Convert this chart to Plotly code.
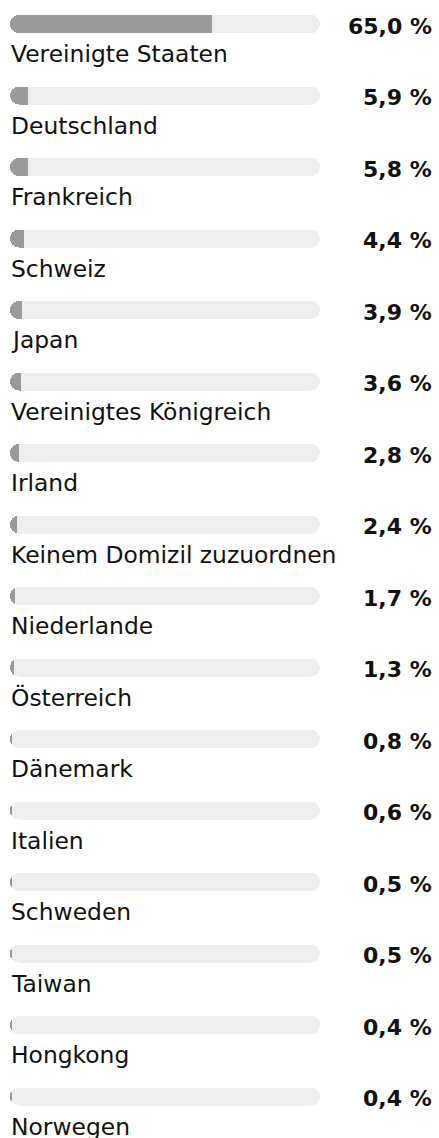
import plotly.graph_objects as go

countries = [
    "Vereinigte Staaten", "Deutschland", "Frankreich", "Schweiz", "Japan",
    "Vereinigtes Königreich", "Irland", "Keinem Domizil zuzuordnen",
    "Niederlande", "Österreich", "Dänemark", "Italien", "Schweden",
    "Taiwan", "Hongkong", "Norwegen",
]
shares = [65.0, 5.9, 5.8, 4.4, 3.9, 3.6, 2.8, 2.4, 1.7, 1.3, 0.8, 0.6, 0.5, 0.5, 0.4, 0.4]
share_labels = ["65,0 %", "5,9 %", "5,8 %", "4,4 %", "3,9 %", "3,6 %", "2,8 %", "2,4 %",
                "1,7 %", "1,3 %", "0,8 %", "0,6 %", "0,5 %", "0,5 %", "0,4 %", "0,4 %"]
full_scale = 100.0

W, H = 439, 1138
PITCH = 71.5          # px between rows
FIRST_CENTER = 24     # px, centre of the first bar
BAR_PX = 18
X0_PX, X1_PX = 10, 320

rows = list(range(len(countries)))
px_per_unit = (X1_PX - X0_PX) / full_scale
x_range = [-X0_PX / px_per_unit, (W - X0_PX) / px_per_unit]
# mirrored axis: the fill grows from the left end of the track, rounded there
x2_range = [full_scale + X0_PX / px_per_unit, full_scale - (W - X0_PX) / px_per_unit]
y_range = [(H - FIRST_CENTER) / PITCH, -FIRST_CENTER / PITCH]
bar_w = BAR_PX / PITCH

TRACK = "#eeeeee"
FILL = "#9a9a9a"
TEXT = "#111111"

fig = go.Figure()

# grey track, a pill over the full 0-100 % scale
fig.add_trace(go.Bar(
    y=rows, x=[full_scale] * len(rows), base=[0] * len(rows), orientation="h",
    width=bar_w, marker=dict(color=TRACK, line_width=0), hoverinfo="skip",
    xaxis="x", yaxis="y",
))

# value bars on the mirrored axis: an invisible spacer, then the share on top
fig.add_trace(go.Bar(
    y=rows, x=[full_scale - v for v in shares], orientation="h",
    width=bar_w, marker=dict(color="rgba(0,0,0,0)", line_width=0), hoverinfo="skip",
    xaxis="x2", yaxis="y",
))
fig.add_trace(go.Bar(
    y=rows, x=shares, orientation="h",
    width=bar_w, marker=dict(color=FILL, line_width=0),
    customdata=share_labels, text=countries,
    hovertemplate="%{text}: %{customdata}<extra></extra>", textposition="none",
    xaxis="x2", yaxis="y",
))

for i, (name, lab) in enumerate(zip(countries, share_labels)):
    fig.add_annotation(
        x=0, y=i, xref="x", yref="y", text=name, showarrow=False,
        xanchor="left", yanchor="middle", yshift=-30, xshift=-1,
        font=dict(family="DejaVu Sans", size=23.4, color=TEXT),
    )
    fig.add_annotation(
        x=1, y=i, xref="paper", yref="y", text=f"<b>{lab}</b>", showarrow=False,
        xanchor="right", yanchor="middle", xshift=-5, yshift=-2,
        font=dict(family="DejaVu Sans", size=22, color=TEXT),
    )

fig.update_layout(
    width=W, height=H, margin=dict(l=0, r=0, t=0, b=0),
    barmode="stack", barcornerradius=9, showlegend=False,
    paper_bgcolor="white", plot_bgcolor="white",
    xaxis=dict(range=x_range, visible=False, fixedrange=True),
    xaxis2=dict(range=x2_range, visible=False, fixedrange=True,
                overlaying="x", matches=None),
    yaxis=dict(range=y_range, visible=False, fixedrange=True),
)

fig.write_html("out.html")
